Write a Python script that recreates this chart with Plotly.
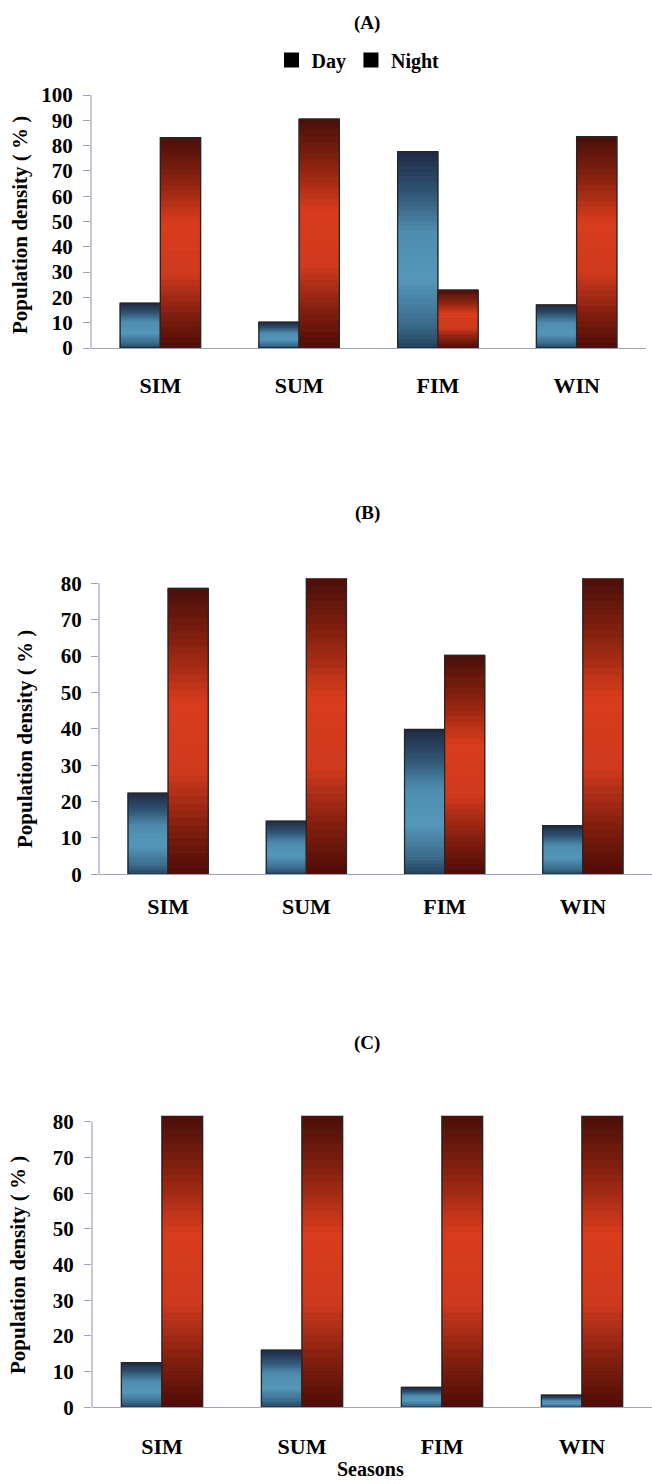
import plotly.graph_objects as go

# ---------------- data ----------------
seasons = ["SIM", "SUM", "FIM", "WIN"]
series_names = ["Day", "Night"]

day_a = [17.7, 10.2, 77.6, 17.0]
night_a = [83.1, 90.5, 22.9, 83.5]

day_b = [22.3, 14.6, 39.8, 13.4]
night_b = [78.6, 85.4, 60.2, 86.6]

day_c = [12.5, 16.0, 5.6, 3.4]
night_c = [87.5, 84.0, 94.4, 96.6]

panel_titles = ["(A)", "(B)", "(C)"]
y_ticks_a = [0, 10, 20, 30, 40, 50, 60, 70, 80, 90, 100]
y_ticks_bc = [0, 10, 20, 30, 40, 50, 60, 70, 80]
y_title = "Population density ( % )"
x_title = "Seasons"

# ---------------- style ----------------
W, H = 652, 1484
FONT = "Liberation Serif"
AXIS_COL = "#9ea3bd"
N_SEG = 40
BAR_W = 0.29

day_stops = [(0.0, "#243f58"), (0.12, "#3a6b8b"), (0.35, "#5597bb"),
             (0.6, "#4e8cae"), (0.8, "#2f5373"), (1.0, "#1f2b44")]
night_stops = [(0.0, "#4e0c06"), (0.15, "#7c1d0e"), (0.36, "#cf3a1d"),
               (0.6, "#d83c1d"), (0.8, "#8a2210"), (1.0, "#4a0f0a")]


def hex2rgb(h):
    h = h.lstrip("#")
    return tuple(int(h[i:i + 2], 16) for i in (0, 2, 4))


def grad(stops, t):
    for (p0, c0), (p1, c1) in zip(stops[:-1], stops[1:]):
        if p0 <= t <= p1:
            f = (t - p0) / (p1 - p0) if p1 > p0 else 0
            a, b = hex2rgb(c0), hex2rgb(c1)
            r = [round(a[i] + (b[i] - a[i]) * f) for i in range(3)]
            return "rgb(%d,%d,%d)" % tuple(r)
    return stops[-1][1]


def px_x(p):
    return p / W


def px_y(p):
    return 1 - p / H


panels = [
    dict(day=day_a, night=night_a, ymax=100, ticks=y_ticks_a,
         xdom=[px_x(91), px_x(646)], ydom=[px_y(348), px_y(95)],
         standoff=17, ystand=6, title_y=23, ytitle_x=20, ytitle_y=225),
    dict(day=day_b, night=night_b, ymax=81.4, ticks=y_ticks_bc,
         xdom=[px_x(99), 1.0], ydom=[px_y(874.3), px_y(578.2)],
         standoff=12, ystand=5, title_y=513, ytitle_x=25, ytitle_y=739),
    dict(day=day_c, night=night_c, ymax=81.7, ticks=y_ticks_bc,
         xdom=[px_x(92), 1.0], ydom=[px_y(1407.3), px_y(1115.7)],
         standoff=19, ystand=6, title_y=1043, ytitle_x=18, ytitle_y=1265),
]

fig = go.Figure()
layout = dict(
    width=W, height=H, margin=dict(l=0, r=0, t=0, b=0, pad=0, autoexpand=False),
    paper_bgcolor="white", plot_bgcolor="white",
    barmode="overlay", showlegend=True,
    font=dict(family=FONT, color="black"),
)
shapes = []
annotations = []

for i, p in enumerate(panels):
    sfx = "" if i == 0 else str(i + 1)
    xa, ya = "x" + sfx, "y" + sfx
    for vals, stops, off in ((p["day"], day_stops, -BAR_W), (p["night"], night_stops, 0.0)):
        vis = [min(v, p["ymax"]) for v in vals]
        for k in range(N_SEG):
            t = (k + 0.5) / N_SEG
            col = grad(stops, t)
            fig.add_trace(go.Bar(
                x=seasons, y=[h / N_SEG for h in vis], base=[h * k / N_SEG for h in vis],
                width=BAR_W, offset=off, xaxis=xa, yaxis=ya,
                marker=dict(color=col, line=dict(width=1, color=col)),
                showlegend=False, hoverinfo="skip"))
        fig.add_trace(go.Bar(
            x=seasons, y=vals, width=BAR_W, offset=off, xaxis=xa, yaxis=ya,
            marker=dict(color="rgba(0,0,0,0)", line=dict(color="#262626", width=1.3)),
            showlegend=False, hoverinfo="skip"))

    layout["xaxis" + sfx] = dict(
        domain=p["xdom"], anchor=ya, type="category", range=[-0.5, 3.5],
        showline=True, linecolor=AXIS_COL, linewidth=1.2, ticks="",
        showgrid=False, zeroline=False, ticklabelstandoff=p["standoff"],
        automargin=False,
        tickfont=dict(family=FONT, size=22, weight="bold", color="black"))
    layout["yaxis" + sfx] = dict(
        domain=p["ydom"], anchor=xa, range=[0, p["ymax"]], tickvals=p["ticks"],
        ticks="outside", ticklen=7, tickcolor=AXIS_COL, tickwidth=1,
        showline=False, showgrid=False, zeroline=False, ticklabelstandoff=p["ystand"],
        automargin=False,
        tickfont=dict(family=FONT, size=21, weight="bold", color="black"))
    shapes.append(dict(type="line", xref=xa + " domain", yref=ya, x0=0, x1=0,
                       y0=0, y1=p["ticks"][-1], line=dict(color=AXIS_COL, width=1.2)))
    annotations.append(dict(text=panel_titles[i], xref="paper", yref="paper",
                            x=px_x(367), y=px_y(p["title_y"]), showarrow=False,
                            xanchor="center", yanchor="middle",
                            font=dict(family=FONT, size=19, weight="bold", color="black")))
    annotations.append(dict(text=y_title, xref="paper", yref="paper", textangle=-90,
                            x=px_x(p["ytitle_x"]), y=px_y(p["ytitle_y"]), showarrow=False,
                            xanchor="center", yanchor="middle",
                            font=dict(family=FONT, size=21, weight="bold", color="black")))

annotations.append(dict(text=x_title, xref="paper", yref="paper",
                        x=px_x(370), y=px_y(1469), showarrow=False,
                        xanchor="center", yanchor="middle",
                        font=dict(family=FONT, size=20, weight="bold", color="black")))

# legend entries (black squares)
for name in series_names:
    fig.add_trace(go.Scatter(x=[None], y=[None], mode="markers", name=name,
                             marker=dict(symbol="square", color="black", size=15),
                             xaxis="x", yaxis="y", hoverinfo="skip"))

layout["legend"] = dict(orientation="h", x=px_x(358), y=px_y(60),
                        xanchor="center", yanchor="middle",
                        font=dict(family=FONT, size=20, weight="bold", color="black"),
                        itemwidth=30, tracegroupgap=0, bgcolor="rgba(0,0,0,0)")
layout["shapes"] = shapes
layout["annotations"] = annotations
fig.update_layout(**layout)

fig.write_html("out.html", config={"displayModeBar": False},
               post_script="document.body.style.margin='0px';document.body.style.overflow='hidden';")
